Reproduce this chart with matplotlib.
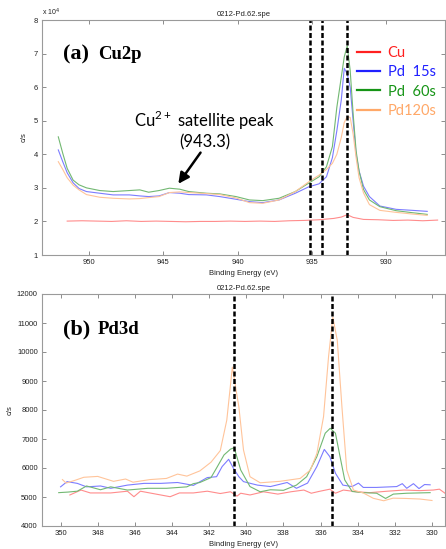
import matplotlib
matplotlib.use("Agg")
import matplotlib.pyplot as plt
from matplotlib.lines import Line2D
from matplotlib.font_manager import FontProperties

# ---------------- Cu 2p region (intensity in units of 10^4 c/s) ----------------
cu2p_energy = [952.1, 951.8, 951.5, 951.1, 950.7, 950.2, 949.3, 948.4, 947.3, 946.6,
               946.0, 945.3, 944.6, 943.9, 943.3, 942.1, 941.2, 940.1, 939.2, 938.3,
               937.2, 936.1, 935.2, 934.5, 934.0, 933.6, 933.3, 933.0, 932.8, 932.6,
               932.4, 932.2, 932.0, 931.8, 931.5, 931.1, 930.4, 929.3, 928.2, 927.2]
cu2p_pd15 = [4.13, 3.78, 3.45, 3.15, 2.98, 2.89, 2.84, 2.79, 2.79, 2.76,
             2.74, 2.76, 2.86, 2.84, 2.80, 2.79, 2.74, 2.66, 2.59, 2.56,
             2.64, 2.84, 3.03, 3.12, 3.33, 3.90, 4.70, 5.62, 6.56, 6.40,
             6.00, 5.00, 4.00, 3.50, 3.05, 2.74, 2.46, 2.36, 2.33, 2.30]
cu2p_pd60 = [4.52, 4.03, 3.58, 3.23, 3.09, 3.00, 2.92, 2.89, 2.92, 2.94,
             2.87, 2.92, 2.99, 2.96, 2.89, 2.84, 2.82, 2.74, 2.64, 2.62,
             2.69, 2.89, 3.14, 3.33, 3.63, 4.23, 5.40, 6.30, 6.90, 7.23,
             6.50, 5.20, 4.10, 3.50, 2.95, 2.64, 2.44, 2.32, 2.26, 2.21]
cu2p_pd120 = [3.78, 3.55, 3.30, 3.08, 2.94, 2.80, 2.72, 2.69, 2.67, 2.68,
              2.71, 2.74, 2.86, 2.88, 2.86, 2.83, 2.80, 2.70, 2.56, 2.54,
              2.64, 2.89, 3.18, 3.38, 3.55, 3.73, 4.00, 4.50, 4.95, 5.12,
              5.10, 4.60, 3.90, 3.30, 2.85, 2.50, 2.33, 2.27, 2.22, 2.18]
cu2p_cu_energy = [951.5, 950.5, 949.5, 948.5, 947.5, 946.5, 945.5, 944.5, 943.5, 942.5,
                  941.5, 940.5, 939.5, 938.5, 937.5, 936.5, 935.5, 934.5, 934.0, 933.5,
                  933.0, 932.6, 932.2, 931.5, 930.5, 929.5, 928.5, 927.5, 926.5]
cu2p_cu = [2.01, 2.02, 2.01, 2.00, 2.02, 2.00, 2.01, 2.00, 1.99, 2.00,
           2.00, 2.01, 2.00, 2.01, 2.00, 2.02, 2.03, 2.05, 2.07, 2.09,
           2.13, 2.20, 2.12, 2.06, 2.05, 2.03, 2.04, 2.02, 2.04]
cu2p_markers = [935.1, 934.3, 932.6]

# ---------------- Pd 3d region (c/s) ----------------
pd3d_cu_energy = [349.5, 348.9, 348.4, 347.3, 346.4, 346.05, 345.7, 345.2, 344.1, 343.6,
                  342.85, 342.1, 341.4, 340.85, 340.5, 340.3, 339.8, 339.07, 338.3, 337.6,
                  336.9, 336.5, 336.1, 335.5, 335.2, 334.77, 334.06, 333.35, 332.4, 331.5,
                  330.65, 329.93, 329.6, 329.3]
pd3d_cu = [5070, 5240, 5140, 5140, 5200, 5010, 5200, 5140, 5010, 5140,
           5140, 5200, 5120, 5180, 5030, 5130, 5070, 5180, 5100, 5180,
           5240, 5130, 5190, 5270, 5130, 5240, 5180, 5150, 5200, 5240,
           5220, 5240, 5270, 5130]
pd3d_pd15_energy = [350.0, 349.65, 349.1, 348.6, 347.85, 347.3, 346.4, 345.5, 344.6, 343.7,
                    342.85, 342.1, 341.6, 341.3, 340.95, 340.7, 340.4, 340.15, 339.4, 338.7,
                    337.8, 337.3, 336.7, 336.2, 335.8, 335.5, 335.2, 334.8, 334.3, 333.96,
                    333.7, 333.0, 331.9, 331.6, 331.36, 331.0, 330.7, 330.4, 330.1]
pd3d_pd15 = [5350, 5530, 5470, 5350, 5380, 5300, 5410, 5470, 5470, 5500,
             5400, 5670, 5700, 6050, 6300, 6000, 5700, 5530, 5410, 5360,
             5500, 5300, 5480, 6050, 6640, 6390, 5820, 5410, 5360, 5480,
             5330, 5330, 5360, 5460, 5300, 5460, 5290, 5430, 5420]
pd3d_pd60_energy = [350.1, 349.6, 349.1, 348.6, 347.85, 347.3, 346.4, 345.3, 344.3, 343.2,
                    342.85, 342.5, 341.9, 341.6, 341.2, 340.85, 340.65, 340.3, 339.8, 339.25,
                    338.7, 338.0, 337.3, 336.75, 336.2, 335.75, 335.48, 335.2, 334.95, 334.7,
                    334.3, 333.7, 332.98, 332.5, 332.08, 331.36, 330.1]
pd3d_pd60 = [5150, 5170, 5200, 5380, 5250, 5350, 5240, 5300, 5300, 5350,
             5460, 5500, 5670, 6000, 6450, 6650, 6700, 5930, 5360, 5180,
             5250, 5230, 5410, 5700, 6390, 7200, 7370, 7200, 6390, 5590,
             5190, 5150, 5130, 4950, 5100, 5130, 5150]
pd3d_pd120_energy = [349.9, 349.7, 349.2, 348.75, 348.0, 347.15, 346.5, 346.1, 345.2, 344.3,
                     343.7, 343.2, 342.5, 341.9, 341.4, 341.05, 340.75, 340.4, 340.15, 339.8,
                     339.25, 338.2, 337.1, 336.55, 336.2, 335.84, 335.57, 335.34, 335.1, 334.85,
                     334.59, 334.23, 333.7, 333.16, 332.6, 332.1, 331.4, 330.65, 330.0]
pd3d_pd120 = [5600, 5480, 5580, 5680, 5710, 5540, 5620, 5510, 5600, 5640,
              5790, 5720, 5900, 6200, 6600, 7650, 9480, 8110, 6620, 5700,
              5490, 5540, 5640, 5930, 6500, 7770, 9840, 11200, 10400, 8110,
              5930, 5240, 5140, 4955, 4870, 4960, 4950, 4930, 4880]
pd3d_markers = [340.65, 335.36]

series_labels = ["Cu", "Pd  15s", "Pd  60s", "Pd120s"]
line_colors = ["#ff8c8c", "#7c7cff", "#72b872", "#ffc49a"]
key_colors = ["#ff2020", "#2020ff", "#169416", "#ffa868"]

W, H = 446, 549
plt.rcParams["font.family"] = ["Liberation Sans", "DejaVu Sans"]
fig = plt.figure(figsize=(W / 100, H / 100), dpi=100)


def box(left, top, right, bottom):
    return [left / W, 1 - bottom / H, (right - left) / W, (bottom - top) / H]


def style_axes(ax):
    for sp in ax.spines.values():
        sp.set_color("#9a9a9a")
        sp.set_linewidth(0.8)
    ax.tick_params(direction="in", top=True, right=True, length=3, width=0.6,
                   color="#7a7a7a", labelsize=5.5, pad=3, labelcolor="#222222")
    ax.set_title("0212-Pd.62.spe", fontsize=5.5, pad=3, color="#222222")
    ax.set_xlabel("Binding Energy (eV)", fontsize=5.5, labelpad=3, color="#222222")


# ---- (a) Cu2p ----
ax1 = fig.add_axes(box(42, 20, 445, 255))
ax1.plot(cu2p_cu_energy, cu2p_cu, color=line_colors[0], lw=0.8)
ax1.plot(cu2p_energy, cu2p_pd15, color=line_colors[1], lw=0.8)
ax1.plot(cu2p_energy, cu2p_pd60, color=line_colors[2], lw=0.8)
ax1.plot(cu2p_energy, cu2p_pd120, color=line_colors[3], lw=0.8)
for e in cu2p_markers:
    ax1.axvline(e, color="black", lw=1.8, ls=(0, (2, 1)))
ax1.set_xlim(953.2, 926.0)
ax1.set_ylim(1, 8)
ax1.set_xticks([950, 945, 940, 935, 930])
ax1.set_yticks(range(1, 9))
style_axes(ax1)
ax1.set_ylabel("c/s", fontsize=5.5, color="#222222")
ax1.yaxis.set_label_coords(-0.035, 0.5)
ax1.text(0.0, 1.01, "x 10$^4$", transform=ax1.transAxes, fontsize=5, ha="left",
         va="bottom", color="#222222")

lato = FontProperties(family="Lato", size=10.5)
handles = [Line2D([], [], color=c, lw=1.6) for c in key_colors]
leg = ax1.legend(handles, series_labels, loc="upper left",
                 bbox_to_anchor=((357 - 42) / 403, (255 - 46) / 235),
                 frameon=False, prop=lato, handlelength=1.55, handletextpad=0.55,
                 labelspacing=0.36, borderaxespad=0, borderpad=0)
for txt, c in zip(leg.get_texts(), key_colors):
    txt.set_color(c)

ax1.annotate("", xy=(944.0, 3.12), xytext=(942.5, 4.05),
             arrowprops=dict(arrowstyle="-|>", color="black", lw=1.8, mutation_scale=16,
                             shrinkA=0, shrinkB=0))
ax1.text(942.2, 5.02, r"Cu$^{\mathregular{2+}}$ satellite peak", fontsize=12,
         family="Lato", ha="center", va="center")
ax1.text(942.2, 4.34, "(943.3)", fontsize=12, family="Lato", ha="center", va="center")

# ---- (b) Pd3d ----
ax2 = fig.add_axes(box(42, 294, 445, 526))
ax2.plot(pd3d_cu_energy, pd3d_cu, color=line_colors[0], lw=0.8)
ax2.plot(pd3d_pd15_energy, pd3d_pd15, color=line_colors[1], lw=0.8)
ax2.plot(pd3d_pd60_energy, pd3d_pd60, color=line_colors[2], lw=0.8)
ax2.plot(pd3d_pd120_energy, pd3d_pd120, color=line_colors[3], lw=0.8)
for e in pd3d_markers:
    ax2.axvline(e, color="black", lw=1.8, ls=(0, (2, 1)))
ax2.set_xlim(351.0, 329.3)
ax2.set_ylim(4000, 12000)
ax2.set_xticks(range(350, 329, -2))
ax2.set_yticks(range(4000, 12001, 1000))
style_axes(ax2)
ax2.set_ylabel("c/s", fontsize=5.5, color="#222222")
ax2.yaxis.set_label_coords(-0.07, 0.5)

# panel tags
for top_px, tag, name in [(59, "(a)", "Cu2p"), (334, "(b)", "Pd3d")]:
    fig.text(63 / W, 1 - top_px / H, tag, fontsize=16, family="Liberation Serif",
             weight="bold", ha="left", va="baseline")
    fig.text(98 / W, 1 - top_px / H, name, fontsize=13.5, family="Liberation Serif",
             weight="bold", ha="left", va="baseline")

fig.savefig("out.png", dpi=100)
